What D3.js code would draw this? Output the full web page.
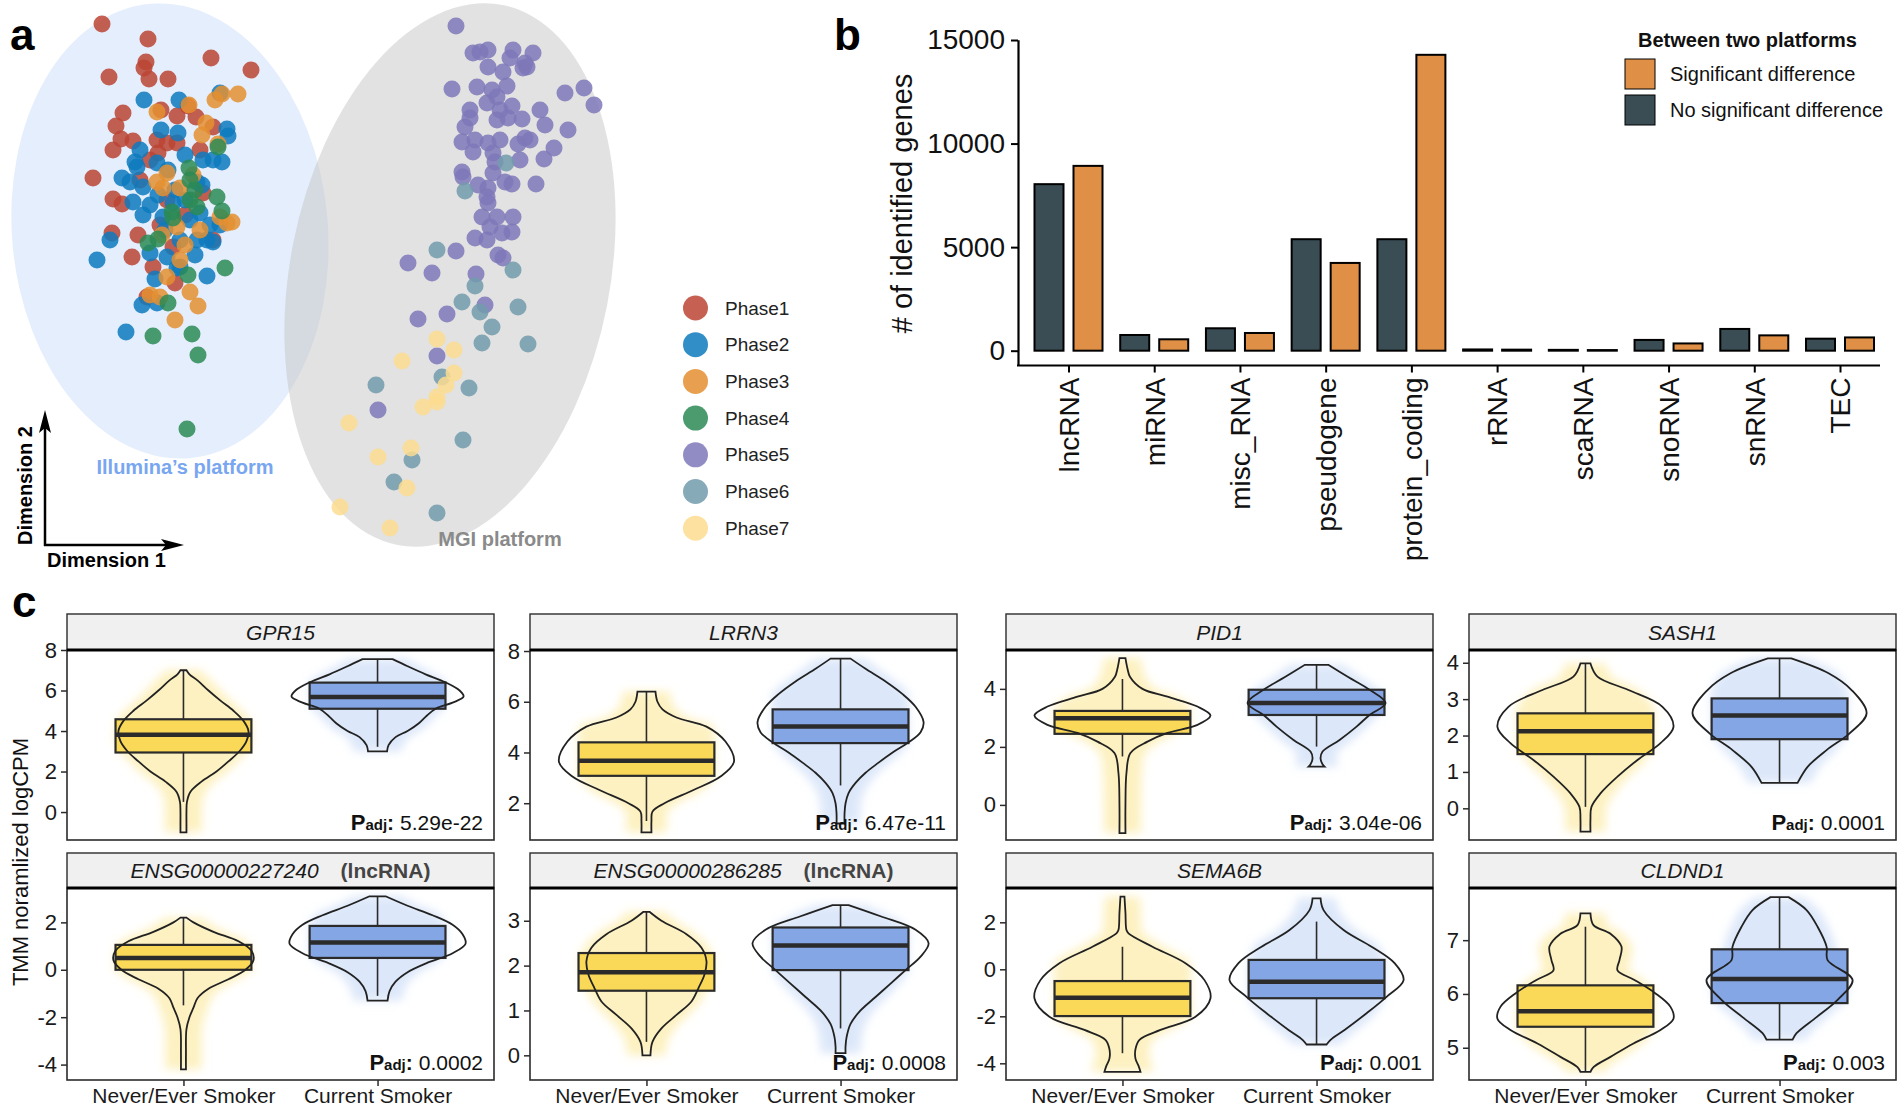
<!DOCTYPE html>
<html><head><meta charset="utf-8">
<script src="https://cdn.jsdelivr.net/npm/d3@7"></script>
<style>
body{margin:0;background:#fff}
svg{display:block}
text{font-family:"Liberation Sans",Arial,Helvetica,sans-serif}
</style></head>
<body><svg id="fig" width="1900" height="1110"></svg>
<script>
// ---------------- DATA ----------------
// Panel a: MDS coordinates (Dimension 1, Dimension 2) per phase
const phaseNames = ["Phase1","Phase2","Phase3","Phase4","Phase5","Phase6","Phase7"];
const phaseColors = ["#BB4434","#0D7ABD","#E48F31","#2C8A55","#7E78B9","#729BAD","#FDDC8F"];
const phase1Pts = [[-1.98,2.51],[-1.52,2.36],[-1.54,2.13],[-1.56,2.07],[-1.51,1.96],[-1.32,1.96],[-1.91,1.98],[-0.89,2.17],[-0.49,2.05],[-1.77,1.62],[-1.39,1.65],[-1.23,1.59],[-1.12,1.69],[-1.04,1.58],[-1.84,1.49],[-1.79,1.36],[-1.67,1.34],[-1.87,1.25],[-1.43,1.35],[-1.33,1.32],[-1.23,1.32],[-1.42,1.22],[-0.87,1.48],[-2.07,0.97],[-1.87,0.76],[-1.78,0.71],[-1.60,0.95],[-1.88,0.42],[-1.62,0.40],[-1.68,0.18],[-1.47,0.08],[-1.25,-0.08],[-0.87,0.35],[-1.27,0.28],[-1.53,-0.22],[-0.97,0.82],[-1.33,0.75],[-1.50,1.15],[-1.15,0.60],[-1.40,0.50],[-1.00,1.25]];
const phase2Pts = [[-1.56,1.75],[-1.21,1.75],[-0.80,1.82],[-0.73,1.46],[-0.72,1.39],[-1.39,1.45],[-1.22,1.42],[-1.15,1.20],[-0.97,1.15],[-0.87,1.15],[-0.78,1.13],[-1.65,1.13],[-1.63,1.08],[-1.43,1.12],[-1.78,0.97],[-1.70,0.93],[-1.57,0.88],[-1.32,1.05],[-1.03,0.93],[-0.98,0.90],[-1.67,0.73],[-1.50,0.70],[-1.57,0.60],[-1.37,0.58],[-1.27,0.72],[-1.00,0.62],[-0.90,0.50],[-0.80,0.50],[-1.90,0.35],[-1.50,0.22],[-1.33,0.18],[-1.20,0.35],[-1.03,0.35],[-0.93,0.35],[-0.87,0.33],[-2.03,0.15],[-1.45,-0.04],[-0.93,-0.01],[-1.58,-0.30],[-1.43,-0.28],[-1.20,0.08],[-1.10,0.55],[-1.74,-0.57],[-1.23,0.07],[-1.25,0.85],[-1.42,0.80],[-1.15,0.75],[-1.35,0.45],[-1.05,0.20],[-1.60,1.25]];
const phase3Pts = [[-1.43,1.63],[-1.11,1.70],[-0.94,1.52],[-0.98,1.40],[-0.85,1.75],[-0.78,1.81],[-0.62,1.81],[-0.82,1.31],[-1.33,1.02],[-1.43,0.93],[-1.37,0.87],[-1.20,0.87],[-1.07,1.00],[-0.80,0.58],[-0.73,0.52],[-1.23,0.48],[-1.38,0.40],[-1.15,0.30],[-1.20,0.15],[-1.33,-0.02],[-1.50,-0.20],[-1.40,-0.22],[-1.10,-0.17],[-1.02,-0.31],[-1.25,-0.45],[-0.68,0.53],[-1.00,0.45]];
const phase4Pts = [[-0.82,1.28],[-1.11,1.07],[-1.10,0.95],[-1.10,0.75],[-1.03,0.68],[-0.83,0.78],[-0.78,0.64],[-1.28,0.63],[-1.27,0.57],[-1.52,0.32],[-1.42,0.36],[-1.12,0.00],[-0.75,0.07],[-1.32,-0.28],[-1.47,-0.61],[-1.08,-0.59],[-1.02,-0.80],[-1.13,-1.54],[-1.05,0.85]];
const phase5Pts = [[1.56,2.49],[1.73,2.22],[1.80,2.23],[1.88,2.25],[2.13,2.25],[2.10,2.17],[2.23,2.07],[2.25,2.12],[1.88,2.08],[2.03,2.03],[1.52,1.86],[1.77,1.88],[1.92,1.85],[2.07,1.89],[1.70,1.65],[1.87,1.72],[1.97,1.78],[2.00,1.65],[2.12,1.69],[2.22,1.56],[1.70,1.57],[1.65,1.48],[1.97,1.55],[2.08,1.57],[1.62,1.33],[1.75,1.35],[1.88,1.32],[2.00,1.35],[2.18,1.31],[2.25,1.37],[1.73,1.23],[1.93,1.22],[1.95,1.13],[1.93,1.02],[1.62,1.03],[1.63,0.98],[1.78,0.90],[1.88,0.87],[2.05,0.93],[2.12,0.91],[1.87,0.78],[1.88,0.72],[1.82,0.58],[1.97,0.58],[2.13,0.58],[1.90,0.48],[1.75,0.37],[1.87,0.35],[2.02,0.42],[2.12,0.43],[1.98,0.20],[2.03,0.17],[1.56,0.24],[1.08,0.12],[1.32,0.02],[1.76,0.01],[1.18,-0.44],[1.47,-0.39],[1.85,-0.30],[1.37,-0.81],[0.78,-1.35],[2.65,1.82],[2.84,1.87],[2.94,1.70],[2.68,1.45],[2.54,1.27],[2.36,0.91],[2.44,1.16],[2.33,2.22],[2.27,2.08],[2.40,1.65],[2.30,1.35],[2.45,1.50],[2.20,1.15]];
const phase6Pts = [[2.06,1.12],[1.65,0.84],[1.37,0.25],[2.13,0.05],[1.75,-0.11],[1.62,-0.27],[1.80,-0.37],[2.18,-0.32],[1.92,-0.52],[1.82,-0.68],[2.28,-0.69],[1.42,-1.02],[0.76,-1.10],[1.69,-1.13],[1.63,-1.65],[1.12,-1.85],[0.94,-2.07],[1.37,-2.38]];
const phase7Pts = [[1.37,-0.64],[1.54,-0.75],[1.02,-0.86],[1.54,-0.98],[1.46,-1.10],[1.37,-1.22],[1.37,-1.27],[1.23,-1.32],[0.49,-1.48],[1.11,-1.73],[0.78,-1.82],[1.07,-2.13],[0.90,-2.53],[0.40,-2.32]];
const phasePoints = [phase1Pts,phase2Pts,phase3Pts,phase4Pts,phase5Pts,phase6Pts,phase7Pts];
// confidence ellipses (centre, semi-axes in Dimension units, tilt in degrees)
const illuminaEllipse = {cx:-1.30, cy:0.44, rx:1.58, ry:2.28, angle:-5};
const mgiEllipse = {cx:1.50, cy:0.00, rx:1.60, ry:2.75, angle:11};

// Panel b
const geneTypes = ["lncRNA","miRNA","misc_RNA","pseudogene","protein_coding","rRNA","scaRNA","snoRNA","snRNA","TEC"];
const noSigCounts = [8040,758,1082,5382,5382,60,40,520,1050,580];
const sigCounts   = [8923,550,855,4237,14285,50,30,350,740,640];
const countTicks = [0,5000,10000,15000];
const legendLabels = ["Significant difference","No significant difference"];

// Panel c
const geneNames = ["GPR15","LRRN3","PID1","SASH1","ENSG00000227240","ENSG00000286285","SEMA6B","CLDND1"];
const geneTags  = ["","","","","(lncRNA)","(lncRNA)","",""];
const groupLabels = ["Never/Ever Smoker","Current Smoker"];
const padjValues = ["5.29e-22","6.47e-11","3.04e-06","0.0001","0.0002","0.0008","0.001","0.003"];
const yDomains = [[-1.38,8.0],[0.55,8.04],[-1.21,5.34],[-0.87,4.35],[-4.65,3.45],[-0.55,3.73],[-4.71,3.46],[4.4,7.97]];
const yTicks = [[0,2,4,6,8],[2,4,6,8],[0,2,4],[0,1,2,3,4],[-4,-2,0,2],[0,1,2,3],[-4,-2,0,2],[5,6,7]];
// box stats: [lower whisker, Q1, median, Q3, upper whisker]
const neverBox = [[0.5,2.94,3.82,4.58,7.0],[1.3,3.08,3.67,4.4,6.4],[1.67,2.45,2.99,3.24,4.34],[0.04,1.49,2.12,2.61,3.98],[-1.5,0.0,0.5,1.05,2.2],[0.3,1.44,1.85,2.28,3.2],[-3.57,-1.99,-1.21,-0.5,0.96],[4.55,5.39,5.68,6.16,7.25]];
const currentBox = [[3.22,5.1,5.68,6.39,7.55],[2.7,4.37,5.02,5.7,7.7],[2.01,3.1,3.51,3.97,4.83],[0.7,1.9,2.55,3.02,4.12],[-1.1,0.5,1.15,1.85,3.1],[0.6,1.9,2.45,2.85,3.35],[-3.22,-1.23,-0.53,0.4,2.03],[5.15,5.83,6.28,6.83,7.8]];
// violin profiles: [value, density]
const neverViolin = [
 [[7.0,3],[6.8,6],[6.5,14],[6.0,25],[5.5,37],[5.0,50],[4.5,60],[4.0,65],[3.5,63],[3.0,56],[2.5,45],[2.0,33],[1.5,18],[1.0,7],[0.5,3.5],[0,3],[-0.5,3],[-1.0,3]],
 [[6.4,9],[6.0,11],[5.7,16],[5.38,30],[5.02,60],[4.43,79],[3.64,87.5],[3.05,74],[2.52,47],[2.0,18],[1.67,6],[1.3,5],[0.85,5]],
 [[5.06,3],[4.7,5],[4.42,7.5],[4.0,20],[3.73,45],[3.39,75],[3.08,88],[2.76,75],[2.48,45],[2.18,25],[1.79,8],[1.1,4],[0,3],[-0.97,3]],
 [[3.98,5],[3.62,12],[3.25,43],[2.79,77],[2.24,88],[1.79,75],[1.33,52],[0.87,32],[0.41,15],[0.04,6],[-0.3,5],[-0.64,5]],
 [[2.2,3],[2.0,10],[1.6,30],[1.2,55],[0.8,68],[0.4,70],[0.0,62],[-0.4,45],[-0.8,25],[-1.2,14],[-1.6,10],[-2.0,6],[-2.5,3],[-3.5,2.5],[-4.2,2.5]],
 [[3.2,3],[3.0,15],[2.7,40],[2.4,55],[2.1,60],[1.8,58],[1.5,52],[1.2,45],[0.9,30],[0.6,15],[0.3,6],[0.0,4]],
 [[3.09,2],[2.4,3],[1.67,4],[1.53,6],[0.96,30],[0.26,63],[-0.46,82],[-1.23,88],[-2.02,73],[-2.58,38],[-3.0,17],[-3.4,13],[-3.8,13],[-4.1,16],[-4.36,18]],
 [[7.5,5],[7.28,8],[7.12,25],[6.88,36],[6.63,34],[6.44,32],[6.26,49],[6.01,70],[5.76,85],[5.54,88],[5.33,75],[5.08,48],[4.83,25],[4.64,8],[4.55,5]]
];
const currentViolin = [
 [[7.55,15],[7.2,30],[6.8,48],[6.4,68],[6.0,82],[5.7,86],[5.4,75],[5.1,58],[4.7,48],[4.37,41],[4.0,30],[3.7,18],[3.3,11],[3.0,9.5]],
 [[7.7,10],[7.3,25],[6.8,45],[6.3,62],[5.8,75],[5.2,83],[4.8,80],[4.4,68],[4.0,52],[3.6,38],[3.2,25],[2.8,15],[2.4,8],[2.0,5],[1.6,4],[1.2,4]],
 [[4.83,11.7],[4.4,32],[3.97,53],[3.51,69],[3.1,53],[2.7,40],[2.24,23],[1.84,6],[1.6,4],[1.4,6],[1.32,8]],
 [[4.12,11.7],[3.71,49],[3.25,72],[2.61,87],[2.06,70],[1.6,47],[1.14,28],[0.7,18]],
 [[3.1,8],[2.7,30],[2.3,55],[1.9,75],[1.5,85],[1.1,88],[0.7,75],[0.3,50],[-0.1,30],[-0.5,18],[-0.9,12],[-1.3,10]],
 [[3.35,8],[3.1,40],[2.8,75],[2.5,88],[2.2,80],[1.9,65],[1.6,50],[1.3,35],[1.0,20],[0.7,10],[0.4,6],[0.2,5],[0.05,5]],
 [[3.02,4],[2.52,7],[1.67,27],[0.96,55],[0.26,78],[-0.46,87],[-1.17,70],[-1.87,50],[-2.58,28],[-3.0,14],[-3.2,10]],
 [[7.8,9],[7.56,27],[7.25,38],[6.88,47],[6.63,48],[6.26,73],[5.89,58],[5.57,37],[5.27,17],[5.15,13]]
];

// ---------------- DRAW ----------------
const FONT = '"Liberation Sans",Arial,sans-serif';
const svg = d3.select("#fig");
const defs = svg.append("defs");
defs.append("filter").attr("id","soft").attr("x","-30%").attr("y","-30%").attr("width","160%").attr("height","160%")
  .append("feGaussianBlur").attr("stdDeviation",5);

// panel letters
[["a",10,50],["b",834,50],["c",12,617]].forEach(([t,x,y])=>{
  svg.append("text").attr("x",x).attr("y",y).text(t)
    .style("font-size","44px").style("font-weight","bold").attr("fill","#000");
});

// ===== Panel a =====
const xA = d3.scaleLinear().domain([-3,3.1]).range([0,610]);
const yA = d3.scaleLinear().domain([-2.75,2.75]).range([550,0]);
const gA = svg.append("g");
function ellipse(e, fill, op){
  const cx = xA(e.cx), cy = yA(e.cy);
  const rx = xA(e.cx+e.rx)-cx, ry = cy-yA(e.cy+e.ry);
  gA.append("ellipse").attr("cx",0).attr("cy",0).attr("rx",rx).attr("ry",ry)
    .attr("transform",`translate(${cx},${cy}) rotate(${e.angle})`)
    .attr("fill",fill).attr("fill-opacity",op);
}
ellipse(illuminaEllipse,"#cfe0fc",0.55);
ellipse(mgiEllipse,"#c6c6c6",0.5);
phasePoints.forEach((pts,i)=>{
  gA.selectAll(null).data(pts).enter().append("circle")
    .attr("cx",d=>xA(d[0])).attr("cy",d=>yA(d[1])).attr("r",8.5)
    .attr("fill",phaseColors[i]).attr("fill-opacity",0.85);
});
gA.append("text").attr("x",185).attr("y",474).attr("text-anchor","middle")
  .text("Illumina’s platform").style("font-size","20px").style("font-weight","bold").attr("fill","#78a6f0");
gA.append("text").attr("x",500).attr("y",546).attr("text-anchor","middle")
  .text("MGI platform").style("font-size","20px").style("font-weight","bold").attr("fill","#8a8a8a");
// dimension arrows
gA.append("line").attr("x1",45).attr("y1",546).attr("x2",45).attr("y2",425).attr("stroke","#000").attr("stroke-width",2.5);
gA.append("path").attr("d","M45,410 L39,433 L45,428 L51,433 Z").attr("fill","#000");
gA.append("line").attr("x1",44).attr("y1",545).attr("x2",170).attr("y2",545).attr("stroke","#000").attr("stroke-width",2.5);
gA.append("path").attr("d","M184,545 L161,539 L166,545 L161,551 Z").attr("fill","#000");
gA.append("text").attr("x",47).attr("y",567).text("Dimension 1").style("font-size","20px").style("font-weight","bold");
gA.append("text").attr("transform","translate(32,545) rotate(-90)").text("Dimension 2").style("font-size","20px").style("font-weight","bold");
// legend a
const legA = gA.append("g");
phaseNames.forEach((p,i)=>{
  const cy = 308 + i*36.7;
  legA.append("circle").attr("cx",695.5).attr("cy",cy).attr("r",12.5).attr("fill",phaseColors[i]).attr("fill-opacity",0.85);
  legA.append("text").attr("x",725).attr("y",cy).attr("dy","0.35em").text(p).style("font-size","19px").attr("fill","#222");
});

// ===== Panel b =====
const xB = d3.scalePoint().domain(geneTypes).range([1068.5,1840]);
const yB = d3.scaleLinear().domain([-715,15015]).range([365.5,39.7]);
const gB = svg.append("g");
const colNoSig = "#3a4d55", colSig = "#e09046";
geneTypes.forEach((t,i)=>{
  [[noSigCounts[i],-19.5,colNoSig],[sigCounts[i],19.5,colSig]].forEach(([v,off,c])=>{
    gB.append("rect").attr("x",xB(t)+off-14.5).attr("width",29)
      .attr("y",yB(v)).attr("height",Math.max(yB(0)-yB(v),0.5))
      .attr("fill",c).attr("stroke","#000").attr("stroke-width",2);
  });
});
const yAxisB = gB.append("g").attr("transform","translate(1018,0)")
  .call(d3.axisLeft(yB).tickValues(countTicks).tickFormat(d=>String(d)).tickSize(7).tickPadding(6).tickSizeOuter(0));
yAxisB.select(".domain").attr("stroke","#000").attr("stroke-width",2.2);
yAxisB.selectAll(".tick line").attr("stroke","#000").attr("stroke-width",2);
yAxisB.selectAll(".tick text").style("font-size","28px").attr("fill","#111").style("font-family",FONT);
gB.append("line").attr("x1",1017).attr("x2",1880).attr("y1",365.5).attr("y2",365.5).attr("stroke","#000").attr("stroke-width",2.2);
const xAxisB = gB.append("g").attr("transform","translate(0,365.5)")
  .call(d3.axisBottom(xB).tickSize(7).tickSizeOuter(0));
xAxisB.select(".domain").remove();
xAxisB.selectAll(".tick line").attr("stroke","#000").attr("stroke-width",2);
xAxisB.selectAll(".tick text").attr("transform","rotate(-90)").attr("text-anchor","end")
  .attr("x",-12).attr("y",0).attr("dy","0.35em")
  .style("font-size","28px").attr("fill","#111").style("font-family",FONT);
gB.append("text").attr("transform","translate(912,203.5) rotate(-90)").attr("text-anchor","middle")
  .text("# of identified genes").style("font-size","29px").attr("fill","#111");
// legend b
gB.append("text").attr("x",1638).attr("y",47).text("Between two platforms").style("font-size","20px").style("font-weight","bold").attr("fill","#111");
[[colSig,74],[colNoSig,110]].forEach(([c,cy],i)=>{
  gB.append("rect").attr("x",1625).attr("y",cy-15).attr("width",30).attr("height",30).attr("fill",c).attr("stroke","#000").attr("stroke-width",1);
  gB.append("text").attr("x",1670).attr("y",cy).attr("dy","0.35em").text(legendLabels[i]).style("font-size","20px").attr("fill","#111");
});

// ===== Panel c =====
const panelLefts = [67,530,1006,1469], panelW = 427;
const boxFill = ["#fad958","#84a6e4"], hazeFill = ["#fce9a0","#c9daf6"];
const gC = svg.append("g");
geneNames.forEach((g,i)=>{
  const col = i%4, row = Math.floor(i/4);
  const left = panelLefts[col], right = left+panelW;
  const stripTop = row ? 853 : 614, top = row ? 888 : 650, bottom = row ? 1080 : 840;
  const y = d3.scaleLinear().domain(yDomains[i]).range([bottom,top]);
  const x = d3.scalePoint().domain(groupLabels).range([left,right]).padding(0.6);
  const w = d3.scaleLinear().domain([0,100]).range([0,x.step()*100/194]);
  const gp = gC.append("g");
  const clipId = "clip"+i;
  defs.append("clipPath").attr("id",clipId).append("rect").attr("x",left).attr("y",top).attr("width",panelW).attr("height",bottom-top);
  const inner = gp.append("g").attr("clip-path",`url(#${clipId})`);
  const groups = [[neverViolin[i],neverBox[i]],[currentViolin[i],currentBox[i]]];
  groups.forEach(([vio,box],k)=>{
    const cx = x(groupLabels[k]);
    // jittered points haze
    const hw = d=>Math.min(w(d[1])*0.85+16,68);
    const haze = d3.area().curve(d3.curveCatmullRom).y(d=>y(d[0])).x0(d=>cx-hw(d)).x1(d=>cx+hw(d));
    inner.append("path").attr("d",haze(vio)).attr("fill",hazeFill[k]).attr("fill-opacity",0.65).attr("filter","url(#soft)");
    // box
    const bw = x.step()*0.7;
    inner.append("rect").attr("x",cx-bw/2).attr("width",bw).attr("y",y(box[3])).attr("height",y(box[1])-y(box[3]))
      .attr("fill",boxFill[k]).attr("stroke","#2b2b2b").attr("stroke-width",2.2);
    // whiskers
    inner.append("line").attr("x1",cx).attr("x2",cx).attr("y1",y(box[3])).attr("y2",y(box[4])).attr("stroke","#2b2b2b").attr("stroke-width",1.6);
    inner.append("line").attr("x1",cx).attr("x2",cx).attr("y1",y(box[1])).attr("y2",y(box[0])).attr("stroke","#2b2b2b").attr("stroke-width",1.6);
    // violin outline
    const area = d3.area().curve(d3.curveCatmullRom).y(d=>y(d[0])).x0(d=>cx-w(d[1])).x1(d=>cx+w(d[1]));
    inner.append("path").attr("d",area(vio)).attr("fill","none").attr("stroke","#222").attr("stroke-width",1.8);
    // median
    inner.append("line").attr("x1",cx-bw/2).attr("x2",cx+bw/2).attr("y1",y(box[2])).attr("y2",y(box[2])).attr("stroke","#2b2b2b").attr("stroke-width",4.5);
  });
  // panel border
  gp.append("rect").attr("x",left).attr("y",top).attr("width",panelW).attr("height",bottom-top)
    .attr("fill","none").attr("stroke","#2b2b2b").attr("stroke-width",1.6);
  // strip
  gp.append("rect").attr("x",left).attr("y",stripTop).attr("width",panelW).attr("height",top-stripTop)
    .attr("fill","#f0f0f0").attr("stroke","#2b2b2b").attr("stroke-width",1.4);
  gp.append("line").attr("x1",left).attr("x2",right).attr("y1",top).attr("y2",top).attr("stroke","#000").attr("stroke-width",3);
  const st = gp.append("text").attr("x",(left+right)/2).attr("y",(stripTop+top)/2).attr("dy","0.36em")
    .attr("text-anchor","middle").style("font-size","21px").attr("fill","#1a1a1a");
  st.append("tspan").style("font-style","italic").text(g);
  if (geneTags[i]) st.append("tspan").attr("dx",22).style("font-weight","bold").attr("fill","#444").text(geneTags[i]);
  // y axis
  const ya = gp.append("g").attr("transform",`translate(${left},0)`)
    .call(d3.axisLeft(y).tickValues(yTicks[i]).tickSize(6).tickPadding(4).tickFormat(d=>String(d)));
  ya.select(".domain").remove();
  ya.selectAll(".tick line").attr("stroke","#2b2b2b").attr("stroke-width",1.5);
  ya.selectAll(".tick text").style("font-size","22px").attr("fill","#1a1a1a").style("font-family",FONT);
  // x axis (bottom row only)
  if (row===1){
    const xa = gp.append("g").attr("transform",`translate(0,${bottom})`)
      .call(d3.axisBottom(x).tickSize(6).tickPadding(2).tickSizeOuter(0));
    xa.select(".domain").remove();
    xa.selectAll(".tick line").attr("stroke","#2b2b2b").attr("stroke-width",1.5);
    xa.selectAll(".tick text").style("font-size","21px").attr("fill","#1a1a1a").style("font-family",FONT);
  }
  // p-value
  const pt = gp.append("text").attr("x",right-11).attr("y",bottom-10).attr("text-anchor","end").style("font-size","21px").attr("fill","#111");
  pt.append("tspan").style("font-weight","bold").style("font-size","22px").text("P");
  pt.append("tspan").style("font-weight","bold").style("font-size","15px").text("adj");
  pt.append("tspan").style("font-weight","bold").text(":");
  pt.append("tspan").attr("dx",6).text(padjValues[i]);
});
gC.append("text").attr("transform","translate(28,862) rotate(-90)").attr("text-anchor","middle")
  .text("TMM noramlized logCPM").style("font-size","22px").attr("fill","#111");
</script>
</body></html>
